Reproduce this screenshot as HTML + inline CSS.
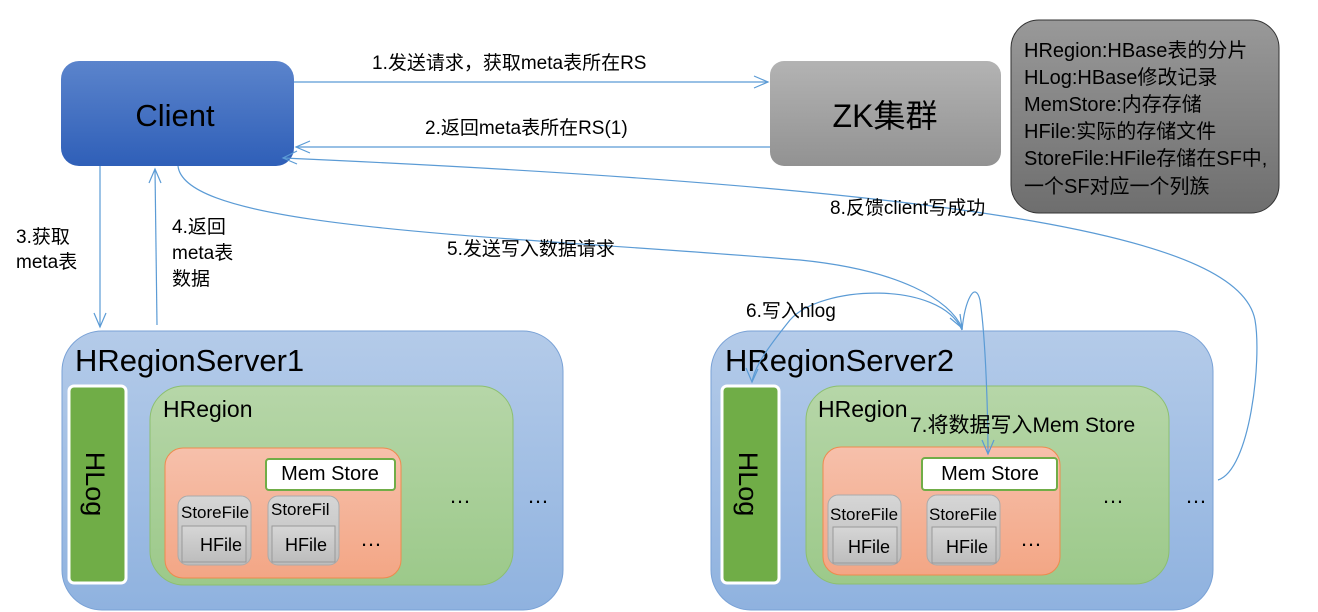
<!DOCTYPE html>
<html><head><meta charset="utf-8">
<style>
html,body{margin:0;padding:0;background:#fff;}
svg{display:block;}
text{font-family:"Liberation Sans","Noto Sans CJK SC",sans-serif;fill:#000;}
</style></head><body>
<svg width="1318" height="612" viewBox="0 0 1318 612" xmlns="http://www.w3.org/2000/svg">
<defs>
<linearGradient id="gc" x1="0" y1="0" x2="0" y2="1"><stop offset="0" stop-color="#5b84cc"/><stop offset="1" stop-color="#2f5fb8"/></linearGradient>
<linearGradient id="gz" x1="0" y1="0" x2="0" y2="1"><stop offset="0" stop-color="#b3b3b3"/><stop offset="1" stop-color="#929292"/></linearGradient>
<linearGradient id="gs" x1="0" y1="0" x2="0" y2="1"><stop offset="0" stop-color="#b4cbe9"/><stop offset="1" stop-color="#8fb2df"/></linearGradient>
<linearGradient id="gr" x1="0" y1="0" x2="0" y2="1"><stop offset="0" stop-color="#b6d6a8"/><stop offset="1" stop-color="#9cc98a"/></linearGradient>
<linearGradient id="go" x1="0" y1="0" x2="0" y2="1"><stop offset="0" stop-color="#f6c0ab"/><stop offset="1" stop-color="#f3a685"/></linearGradient>
<linearGradient id="gl" x1="0" y1="0" x2="0" y2="1"><stop offset="0" stop-color="#999"/><stop offset="1" stop-color="#6e6e6e"/></linearGradient>
<linearGradient id="gf" x1="0" y1="0" x2="0" y2="1"><stop offset="0" stop-color="#d6d6d6"/><stop offset="1" stop-color="#bdbdbd"/></linearGradient>
</defs>

<!-- Client -->
<rect x="61" y="61" width="233" height="105" rx="18" fill="url(#gc)"/>
<text x="175" y="126" font-size="31" text-anchor="middle">Client</text>
<!-- ZK -->
<rect x="770" y="61" width="231" height="105" rx="14" fill="url(#gz)"/>
<text x="885" y="127" font-size="32" text-anchor="middle">ZK集群</text>
<!-- legend -->
<rect x="1011" y="20" width="268" height="193" rx="28" fill="url(#gl)" stroke="#333" stroke-width="1"/>
<g font-size="20">
<text x="1024" y="57">HRegion:HBase表的分片</text>
<text x="1024" y="84">HLog:HBase修改记录</text>
<text x="1024" y="111">MemStore:内存存储</text>
<text x="1024" y="138">HFile:实际的存储文件</text>
<text x="1024" y="165">StoreFile:HFile存储在SF中,</text>
<text x="1024" y="193">一个SF对应一个列族</text>
</g>

<!-- Server1 -->
<rect x="62" y="331" width="501" height="279" rx="40" fill="url(#gs)" stroke="#7aa2d6"/>
<text x="75" y="371" font-size="31">HRegionServer1</text>
<rect x="69" y="386" width="57" height="197" rx="5" fill="#70ad47" stroke="#fff" stroke-width="3"/>
<text transform="translate(86,484) rotate(90)" font-size="27" text-anchor="middle">HLog</text>
<rect x="150" y="386" width="363" height="199" rx="34" fill="url(#gr)" stroke="#8cbf6f"/>
<text x="163" y="417" font-size="23">HRegion</text>
<rect x="165" y="448" width="236" height="130" rx="18" fill="url(#go)" stroke="#ee8a4d"/>
<rect x="266" y="459" width="129" height="31" rx="3" fill="#fff" stroke="#70ad47" stroke-width="2"/>
<text x="330" y="480" font-size="20" text-anchor="middle">Mem Store</text>
<rect x="178" y="496" width="73" height="69" rx="10" fill="url(#gf)" stroke="#aaa"/>
<text x="181" y="518" font-size="17">StoreFile</text>
<rect x="182" y="526" width="64" height="36" fill="url(#gf)" stroke="#999"/>
<text x="200" y="551" font-size="18">HFile</text>
<rect x="268" y="496" width="71" height="69" rx="10" fill="url(#gf)" stroke="#aaa"/>
<text x="271" y="515" font-size="17">StoreFil</text>
<rect x="272" y="526" width="63" height="36" fill="url(#gf)" stroke="#999"/>
<text x="285" y="551" font-size="18">HFile</text>
<text x="360" y="546" font-size="22">…</text>
<text x="449" y="503" font-size="22">…</text>
<text x="527" y="503" font-size="22">…</text>

<!-- Server2 -->
<rect x="711" y="331" width="502" height="279" rx="40" fill="url(#gs)" stroke="#7aa2d6"/>
<text x="725" y="371" font-size="31">HRegionServer2</text>
<rect x="722" y="386" width="57" height="197" rx="5" fill="#70ad47" stroke="#fff" stroke-width="3"/>
<text transform="translate(739,484) rotate(90)" font-size="27" text-anchor="middle">HLog</text>
<rect x="806" y="386" width="363" height="198" rx="34" fill="url(#gr)" stroke="#8cbf6f"/>
<text x="818" y="417" font-size="23">HRegion</text>
<rect x="823" y="447" width="237" height="128" rx="18" fill="url(#go)" stroke="#ee8a4d"/>
<rect x="922" y="458" width="135" height="32" rx="3" fill="#fff" stroke="#70ad47" stroke-width="2"/>
<text x="990" y="480" font-size="20" text-anchor="middle">Mem Store</text>
<rect x="828" y="495" width="73" height="70" rx="10" fill="url(#gf)" stroke="#aaa"/>
<text x="830" y="520" font-size="17">StoreFile</text>
<rect x="833" y="527" width="64" height="36" fill="url(#gf)" stroke="#999"/>
<text x="848" y="553" font-size="18">HFile</text>
<rect x="927" y="495" width="73" height="70" rx="10" fill="url(#gf)" stroke="#aaa"/>
<text x="929" y="520" font-size="17">StoreFile</text>
<rect x="932" y="527" width="64" height="36" fill="url(#gf)" stroke="#999"/>
<text x="946" y="553" font-size="18">HFile</text>
<text x="1020" y="546" font-size="22">…</text>
<text x="1102" y="503" font-size="22">…</text>
<text x="1185" y="503" font-size="22">…</text>

<!-- connectors -->
<g fill="none" stroke="#5b9bd5" stroke-width="1.2">
<path d="M294,82 L768,82"/><path d="M754,76 L768,82 L754,88"/>
<path d="M770,147 L296,147"/><path d="M310,141 L296,147 L310,153"/>
<path d="M1218,480 C1250,470 1262,360 1255,320 C1240,240 1000,190 283,158"/><path d="M297,151 L283,158 L297,164"/>
<path d="M100,166 L100,327"/><path d="M94,313 L100,327 L106,313"/>
<path d="M157,325 L155,169"/><path d="M149,183 L155,169 L161,183"/>
<path d="M178,166 C185,230 500,235 800,260 C900,270 950,300 962,328"/><path d="M950,318 L962,328 L960,314"/>
<path d="M962,330 C940,280 820,285 790,320 C770,345 755,365 752,382"/><path d="M746,368 L752,382 L758,369"/>
<path d="M962,330 C965,300 975,280 980,300 C986,340 988,420 988,454"/><path d="M982,440 L988,454 L994,440"/>
</g>

<g font-size="19">
<text x="372" y="69">1.发送请求，获取meta表所在RS</text>
<text x="425" y="134">2.返回meta表所在RS(1)</text>
<text x="830" y="214">8.反馈client写成功</text>
<text x="16" y="243">3.获取</text>
<text x="16" y="268">meta表</text>
<text x="172" y="233">4.返回</text>
<text x="172" y="259">meta表</text>
<text x="172" y="285">数据</text>
<text x="447" y="255">5.发送写入数据请求</text>
<text x="746" y="317">6.写入hlog</text>
<text x="910" y="432" font-size="21">7.将数据写入Mem Store</text>
</g>
</svg>
</body></html>
